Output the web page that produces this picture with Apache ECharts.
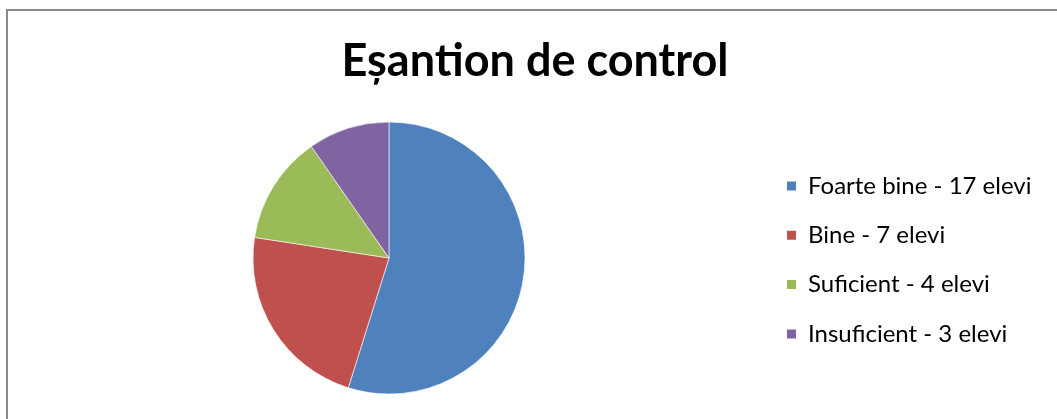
<!DOCTYPE html>
<html>
<head>
<meta charset="utf-8">
<script src="https://cdn.jsdelivr.net/npm/echarts@6/dist/echarts.min.js"></script>
<style>
  html, body { margin: 0; padding: 0; background: #ffffff; }
  #chart { width: 1057px; height: 419px; }
</style>
</head>
<body>
<div id="chart"></div>
<script>
// Grading results for the control sample
const categories = ['Foarte bine - 17 elevi', 'Bine - 7 elevi', 'Suficient - 4 elevi', 'Insuficient - 3 elevi'];
const studentCounts = [17, 7, 4, 3];
const sliceColors = ['#4F81BD', '#C0504D', '#9BBB59', '#8064A2'];
const chartTitle = 'Eșantion de control';

const chart = echarts.init(document.getElementById('chart'), null, { renderer: 'canvas' });

chart.setOption({
  animation: false,
  backgroundColor: '#ffffff',
  color: sliceColors,
  title: {
    text: chartTitle,
    left: 535,
    textAlign: 'center',
    top: 39,
    padding: 0,
    textStyle: {
      fontFamily: 'Lato',
      fontWeight: 'bold',
      fontSize: 45,
      color: '#000000'
    }
  },
  legend: {
    orient: 'vertical',
    left: 785,
    top: 174,
    padding: 0,
    icon: 'rect',
    itemWidth: 11,
    itemHeight: 11,
    itemGap: 25.3,
    selectedMode: false,
    data: categories,
    textStyle: {
      fontFamily: 'Lato',
      fontSize: 24,
      lineHeight: 24,
      color: '#000000',
      padding: [0, 0, 0, 6]
    }
  },
  graphic: [{
    type: 'rect',
    silent: true,
    shape: { x: 7, y: 10, width: 1200, height: 600 },
    style: { fill: 'none', stroke: '#8a8a8a', lineWidth: 2 }
  }],
  series: [{
    type: 'pie',
    center: [389, 258],
    radius: 136,
    startAngle: 90,
    clockwise: true,
    label: { show: false },
    labelLine: { show: false },
    emphasis: { disabled: true },
    itemStyle: { borderColor: '#ffffff', borderWidth: 0.6 },
    data: categories.map((name, i) => ({ name, value: studentCounts[i] }))
  }]
});
</script>
</body>
</html>
